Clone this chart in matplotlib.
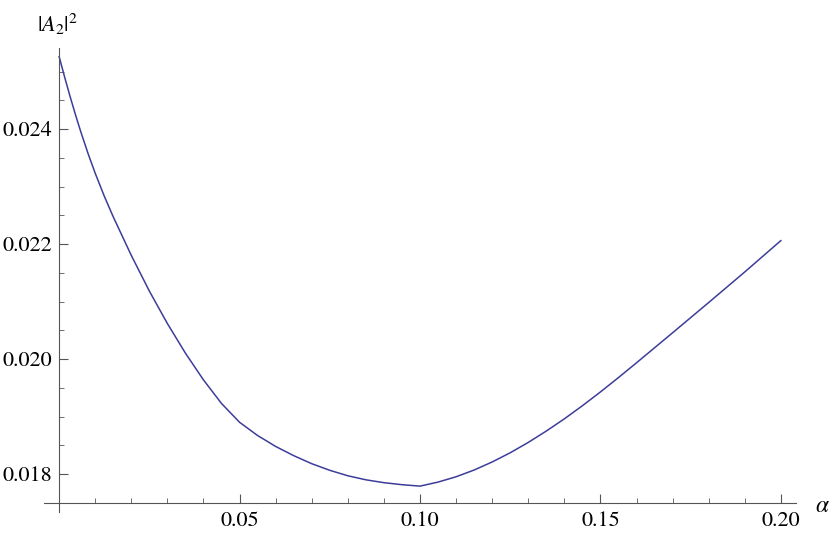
import matplotlib
matplotlib.use("Agg")
import matplotlib.pyplot as plt
from matplotlib.ticker import FixedLocator

plt.rcParams['font.family'] = ['STIXGeneral', 'Liberation Serif', 'DejaVu Serif']
plt.rcParams['mathtext.fontset'] = 'stix'

# data
alpha = [0.0, 0.0015, 0.003, 0.0045, 0.006, 0.008, 0.010, 0.0125, 0.015, 0.020,
         0.025, 0.030, 0.035, 0.040, 0.045, 0.050, 0.055, 0.060, 0.065, 0.070,
         0.075, 0.080, 0.085, 0.090, 0.095, 0.100, 0.105, 0.110, 0.115, 0.120,
         0.125, 0.130, 0.135, 0.140, 0.145, 0.150, 0.155, 0.160, 0.170, 0.180,
         0.190, 0.200]
a2 = [0.025260, 0.024908, 0.024573, 0.024254, 0.023952, 0.023576, 0.023230,
      0.022834, 0.022472, 0.021802, 0.021182, 0.020617, 0.020102, 0.019637,
      0.019227, 0.018900, 0.018670, 0.018480, 0.018320, 0.018180, 0.018065,
      0.017970, 0.017900, 0.017850, 0.017815, 0.017790, 0.017860, 0.017953,
      0.018070, 0.018210, 0.018370, 0.018550, 0.018748, 0.018960, 0.019188,
      0.019428, 0.019678, 0.019935, 0.020457, 0.020983, 0.021515, 0.022060]

x_major = [0.05, 0.10, 0.15, 0.20]
x_labels = ["0.05", "0.10", "0.15", "0.20"]
y_major = [0.018, 0.020, 0.022, 0.024]
y_labels = ["0.018", "0.020", "0.022", "0.024"]

fig = plt.figure(figsize=(8.3, 5.37), dpi=100)
ax = fig.add_axes([44/830, 1-512/537, (796-44)/830, (512-48)/537])

line_color = '#3d3d99'
axis_color = '#555555'

ax.plot(alpha, a2, color=line_color, lw=1.1, solid_joinstyle='round')

ax.set_xlim(-0.0042, 0.2042)
ax.set_ylim(0.01734, 0.02541)

for s in ['top', 'right']:
    ax.spines[s].set_visible(False)
ax.spines['left'].set_position(('data', 0.0))
ax.spines['bottom'].set_position(('data', 0.0175))
for s in ['left', 'bottom']:
    ax.spines[s].set_color(axis_color)
    ax.spines[s].set_linewidth(0.8)

ax.xaxis.set_major_locator(FixedLocator(x_major))
ax.set_xticklabels(x_labels)
ax.xaxis.set_minor_locator(FixedLocator([0.01, 0.02, 0.03, 0.04, 0.06, 0.07, 0.08, 0.09,
                                         0.11, 0.12, 0.13, 0.14, 0.16, 0.17, 0.18, 0.19]))
ax.yaxis.set_major_locator(FixedLocator(y_major))
ax.set_yticklabels(y_labels)
ax.yaxis.set_minor_locator(FixedLocator([0.0185, 0.019, 0.0195, 0.0205, 0.021, 0.0215,
                                         0.0225, 0.023, 0.0235, 0.0245, 0.025]))

ax.tick_params(which='major', direction='in', length=6.5, width=0.8, color=axis_color,
               labelsize=16, labelcolor='black')
ax.tick_params(which='minor', direction='in', length=3.6, width=0.6, color=axis_color)
ax.tick_params(axis='x', which='major', pad=6)
ax.tick_params(axis='y', which='major', pad=5)

fig.text(58/830, 1-24/537, r'$|A_2|^2$', ha='center', va='center', fontsize=16)
fig.text(822/830, 1-506/537, r'$\alpha$', ha='center', va='center', fontsize=17)

fig.savefig('out.png', dpi=100)
